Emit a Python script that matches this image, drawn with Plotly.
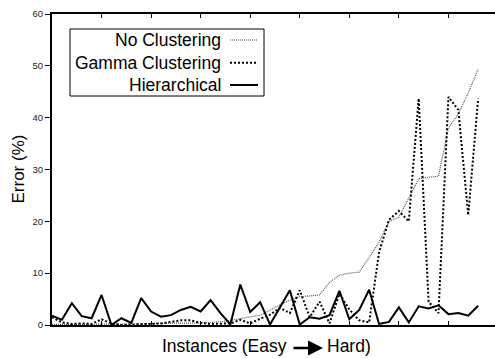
import plotly.graph_objects as go

# ---- data ----
instances = list(range(44))
no_clustering = [0.1, 0.1, 0.1, 0.1, 0.2, 0.2, 0.2, 0.2, 0.2, 0.2,
                 0.3, 0.3, 0.3, 0.3, 0.4, 0.4, 0.5, 0.6, 0.9, 1.2,
                 1.5, 1.9, 2.8, 3.9, 4.8, 5.5, 5.6, 5.8, 8.2, 9.6,
                 10.0, 10.2, 13.0, 16.0, 20.0, 20.8, 24.5, 28.2, 28.5, 28.7,
                 38.0, 40.7, 44.8, 49.3]
gamma_clustering = [1.5, 0.5, 0.2, 0.3, 0.2, 1.1, 0.3, 0.0, 0.1, 0.1,
                    0.2, 0.3, 0.6, 0.9, 0.9, 0.4, 0.2, 0.3, 0.3, 1.0,
                    0.3, 1.2, 2.0, 3.3, 2.3, 6.7, 1.5, 4.5, 0.3, 6.0,
                    3.0, 0.9, 0.5, 14.0, 20.3, 22.0, 20.0, 43.7, 4.5, 2.3,
                    44.0, 41.5, 21.2, 43.7]
hierarchical = [1.8, 1.0, 4.2, 1.7, 1.3, 5.8, 0.0, 1.3, 0.4, 5.2,
                2.6, 1.6, 1.9, 2.9, 3.5, 2.6, 4.8, 2.3, 0.1, 7.8,
                2.5, 4.4, 0.1, 3.4, 6.7, 0.1, 1.5, 1.2, 1.9, 6.6,
                1.1, 2.9, 6.8, 0.2, 0.6, 3.4, 0.5, 3.6, 3.2, 3.8,
                2.1, 2.3, 1.8, 3.7]
series_names = ["No Clustering", "Gamma Clustering", "Hierarchical"]
y_ticks = [0, 10, 20, 30, 40, 50, 60]
x_ticks = [0, 5, 10, 15, 20, 25, 30, 35, 40, 45]

styles = [
    dict(color="#555555", width=1.2, dash="1px,1px"),
    dict(color="black", width=2, dash="2px,2px"),
    dict(color="black", width=2, dash="solid"),
]
series = [no_clustering, gamma_clustering, hierarchical]

W, H = 495, 358
L, R, T, B = 52, 0, 14, 33
pw, ph = W - L - R, H - T - B

def px(x):
    return (x - L) / pw

def py(y):
    return (H - B - y) / ph

fig = go.Figure()
for name, vals, st in zip(series_names, series, styles):
    fig.add_trace(go.Scatter(x=instances, y=vals, mode="lines", name=name,
                             line=st, showlegend=False, cliponaxis=True))

font = "Liberation Sans, Arial, Helvetica, sans-serif"
fig.update_layout(
    width=W, height=H,
    margin=dict(l=L, r=R, t=T, b=B, pad=0),
    paper_bgcolor="white", plot_bgcolor="white",
    font=dict(family=font, color="black"),
    xaxis=dict(range=[0, 44.7], tickvals=x_ticks, showticklabels=False,
               ticks="inside", ticklen=4, tickwidth=1, tickcolor="black",
               showline=True, linewidth=2, linecolor="black", mirror="ticks",
               showgrid=False, zeroline=False),
    yaxis=dict(range=[0, 60], tickvals=y_ticks, ticks="outside", ticklen=5,
               tickwidth=1, tickcolor="black",
               tickfont=dict(size=9.5, family=font, color="#222"),
               showline=True, linewidth=2, linecolor="black", mirror=False,
               showgrid=False, zeroline=False),
)

# legend drawn gnuplot-style: text right-aligned, sample to the right
box = dict(x0=px(70), x1=px(264), y0=py(96), y1=py(29))
fig.add_shape(type="rect", xref="paper", yref="paper", **box,
              line=dict(color="black", width=1), fillcolor="white", layer="above")
rows = [40, 62.7, 85]
for name, st, ry in zip(series_names, styles, rows):
    fig.add_annotation(xref="paper", yref="paper", x=px(223), y=py(ry),
                       text=name, showarrow=False, xanchor="right", yanchor="middle",
                       font=dict(size=17.5, family=font, color="black"))
    fig.add_shape(type="line", xref="paper", yref="paper",
                  x0=px(230), x1=px(258), y0=py(ry), y1=py(ry),
                  line=st, layer="above")

# axis titles
fig.add_annotation(xref="paper", yref="paper", x=px(18), y=py(169.5),
                   text="Error (%)", textangle=-90, showarrow=False,
                   xanchor="center", yanchor="middle",
                   font=dict(size=17, family=font))
fig.add_annotation(xref="paper", yref="paper", x=px(288), y=py(346),
                   text="Instances (Easy", showarrow=False,
                   xanchor="right", yanchor="middle", borderpad=0,
                   font=dict(size=17.5, family=font))
fig.add_annotation(xref="paper", yref="paper", x=px(326), y=py(346),
                   text="Hard)", showarrow=False,
                   xanchor="left", yanchor="middle", borderpad=0,
                   font=dict(size=17.5, family=font))
fig.add_annotation(xref="paper", yref="paper", x=px(323), y=py(348),
                   ax=-31, ay=0, text="", showarrow=True,
                   arrowhead=2, arrowsize=1.2, arrowwidth=2.5, arrowcolor="black")

fig.write_html("out.html")
